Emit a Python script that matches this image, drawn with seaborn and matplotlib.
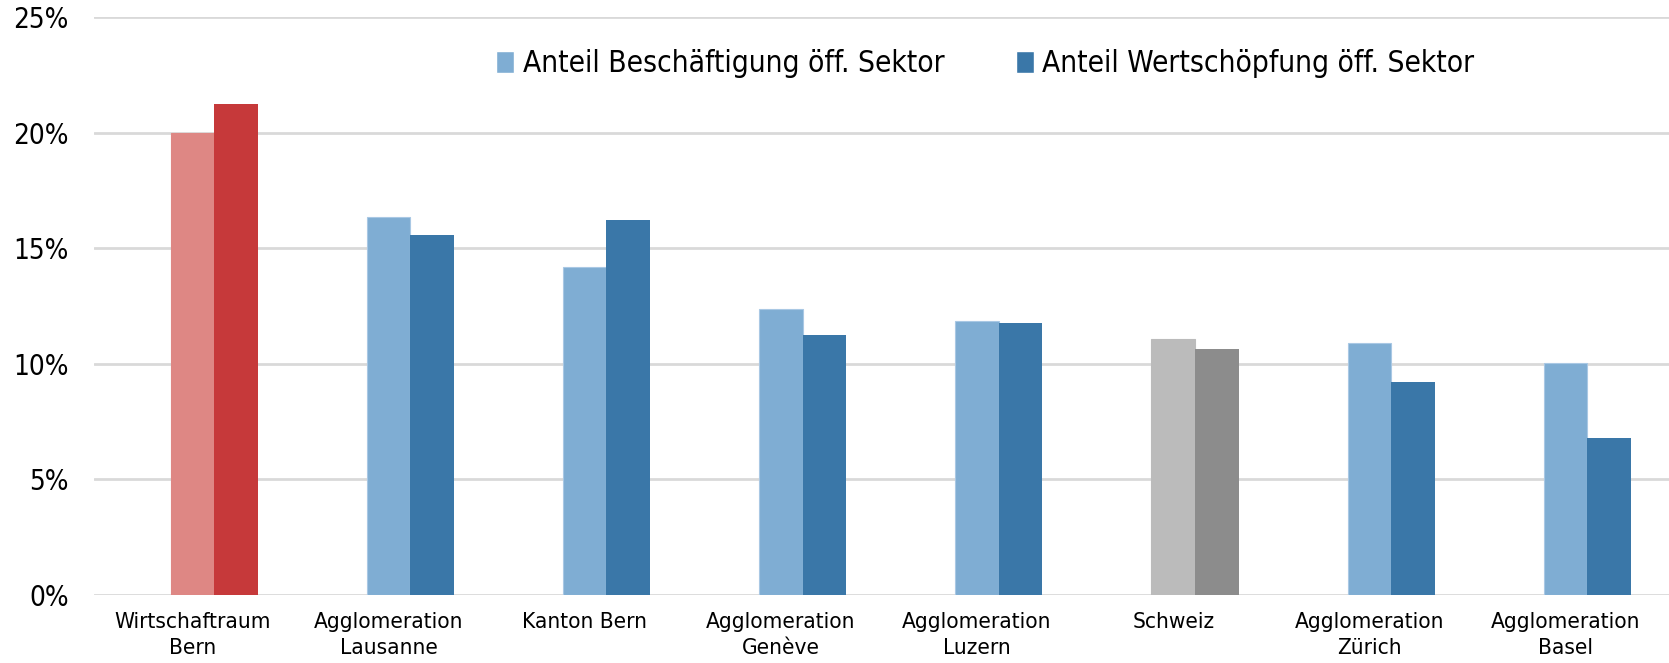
import pandas as pd
import seaborn as sns
import matplotlib.pyplot as plt
from matplotlib.patches import Rectangle

# values (percent)
regions = ['Wirtschaftraum\nBern', 'Agglomeration\nLausanne', 'Kanton Bern',
           'Agglomeration\nGenève', 'Agglomeration\nLuzern', 'Schweiz',
           'Agglomeration\nZürich', 'Agglomeration\nBasel']
beschaeftigung = [20.0, 16.35, 14.2, 12.35, 11.85, 11.05, 10.9, 10.05]
wertschoepfung = [21.25, 15.55, 16.2, 11.25, 11.75, 10.65, 9.2, 6.8]
series_names = ['Anteil Beschäftigung öff. Sektor', 'Anteil Wertschöpfung öff. Sektor']
y_ticks = [0, 5, 10, 15, 20, 25]

# the original Excel chart has an empty first series, so the bars sit right of the label
spacer = 'leer'
df = pd.DataFrame({
    'region': regions * 2,
    'value': beschaeftigung + wertschoepfung,
    'series': [series_names[0]] * len(regions) + [series_names[1]] * len(regions),
})

light_blue, dark_blue = '#7FADD3', '#3A77A8'
light_red, dark_red = '#DE8784', '#C6393A'
light_grey, dark_grey = '#BBBBBB', '#8C8C8C'

sns.set_style('white')
plt.rcParams['font.family'] = ['DejaVu Sans']
plt.rcParams['font.stretch'] = 'condensed'
plt.rcParams['text.color'] = 'black'
plt.rcParams['xtick.color'] = 'black'
plt.rcParams['ytick.color'] = 'black'

fig = plt.figure(figsize=(16.69, 6.63), dpi=100)
ax = fig.add_axes([0.0561, 0.1026, 0.9439, 0.8718])

sns.barplot(data=df, x='region', y='value', hue='series', order=regions,
            hue_order=[spacer] + series_names,
            palette=['white', light_blue, dark_blue], width=0.666, saturation=1,
            ax=ax, legend=False, zorder=3)

besch_bars, wert_bars = ax.containers[-2], ax.containers[-1]
# highlight Bern (red) and Schweiz (grey)
for i, bar in enumerate(besch_bars):
    bar.set_edgecolor('#A9C8E4')
    bar.set_linewidth(0.8)
    if i == 0:
        bar.set_facecolor(light_red)
        bar.set_edgecolor(light_red)
    elif i == 5:
        bar.set_facecolor(light_grey)
        bar.set_edgecolor(light_grey)
for i, bar in enumerate(wert_bars):
    bar.set_linewidth(0)
    if i == 0:
        bar.set_facecolor(dark_red)
    elif i == 5:
        bar.set_facecolor(dark_grey)

ax.set_ylim(0, 25)
ax.set_xlim(-0.503, 7.527)
ax.set_yticks(y_ticks)
ax.set_yticklabels([f'{t}%' for t in y_ticks], fontsize=20)
for lbl in ax.get_xticklabels():
    lbl.set_linespacing(1.4)
ax.tick_params(axis='x', labelsize=16.2, length=0, pad=12)
ax.tick_params(axis='y', length=0, pad=18)
ax.yaxis.grid(True, color='#D9D9D9', linewidth=2, zorder=0)
ax.set_axisbelow(True)
for s in ax.spines.values():
    s.set_visible(False)
ax.set_xlabel('')
ax.set_ylabel('')

handles = [Rectangle((0, 0), 1, 1, facecolor=light_blue),
           Rectangle((0, 0), 1, 1, facecolor=dark_blue)]
ax.legend(handles, series_names, loc='center', bbox_to_anchor=(0.566, 0.919),
          ncol=2, frameon=False, fontsize=21.4, handlelength=0.6,
          handleheight=0.8, handletextpad=0.3, columnspacing=2.4)

fig.savefig('out.png', dpi=100)
